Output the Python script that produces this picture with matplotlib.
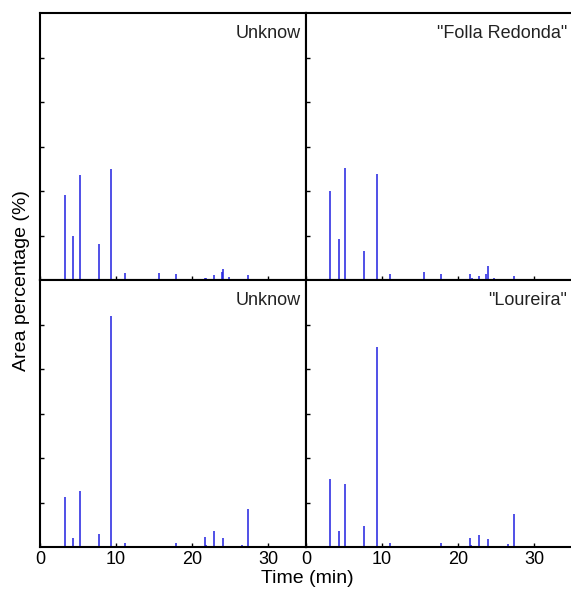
import numpy as np
import matplotlib
matplotlib.use("Agg")
import matplotlib.pyplot as plt

plt.rcParams['font.family'] = ['Liberation Sans', 'DejaVu Sans']

# retention times (min) and area percentage for each chromatogram
t_unk_top = [3.27, 4.36, 5.27, 7.76, 9.37, 11.2, 15.6, 17.9, 21.7, 21.9, 22.9, 23.9, 24.1, 24.8, 27.4]
a_unk_top = [1.9, 0.99, 2.35, 0.8, 2.5, 0.15, 0.16, 0.13, 0.05, 0.05, 0.11, 0.18, 0.24, 0.06, 0.11]

t_folla = [3.18, 4.31, 5.18, 7.67, 9.28, 11.1, 15.5, 17.8, 21.6, 21.8, 22.8, 23.7, 23.96, 24.7, 27.3]
a_folla = [1.99, 0.93, 2.52, 0.65, 2.39, 0.14, 0.17, 0.13, 0.14, 0.05, 0.09, 0.13, 0.32, 0.04, 0.1]

t_unk_bot = [3.27, 4.36, 5.27, 7.76, 9.37, 11.2, 15.6, 17.9, 21.7, 21.9, 22.9, 24.1, 26.6, 27.4]
a_unk_bot = [1.13, 0.2, 1.25, 0.3, 5.2, 0.09, 0.02, 0.08, 0.22, 0.05, 0.37, 0.2, 0.05, 0.86]

t_lour = [3.18, 4.31, 5.18, 7.67, 9.28, 11.1, 17.8, 21.6, 21.75, 22.8, 23.96, 26.5, 27.3]
a_lour = [1.52, 0.36, 1.41, 0.47, 4.5, 0.1, 0.1, 0.2, 0.05, 0.28, 0.19, 0.06, 0.74]

panels = [
    (t_unk_top, a_unk_top, 'Unknow'),
    (t_folla, a_folla, '"Folla Redonda"'),
    (t_unk_bot, a_unk_bot, 'Unknow'),
    (t_lour, a_lour, '"Loureira"'),
]

fig, axs = plt.subplots(2, 2, figsize=(5.71, 5.94), dpi=100)
fig.subplots_adjust(left=40/571, right=1.002, top=1-13/594, bottom=1-547/594,
                    wspace=0, hspace=0)

for i, (ax, (t, a, name)) in enumerate(zip(axs.flat, panels)):
    ax.vlines(t, 0, a, color='#2020e0', linewidth=1.1)
    ax.set_xlim(0, 35)
    ax.set_ylim(0, 6)
    ax.set_xticks([0, 10, 20, 30])
    ax.set_yticks([1, 2, 3, 4, 5])
    ax.tick_params(direction='in', length=3, width=1, labelsize=13, pad=3)
    ax.set_yticklabels([])
    if i < 2:
        ax.set_xticklabels([])
    for s in ax.spines.values():
        s.set_linewidth(1.5)
    ax.text(0.98, 0.955, name, transform=ax.transAxes, ha='right', va='top',
            fontsize=13, color='#222222')

fig.text(0.5375, 0.012, 'Time (min)', ha='center', va='bottom', fontsize=14)
fig.text(0.022, 0.528, 'Area percentage (%)', rotation=90, ha='left', va='center', fontsize=14)

fig.savefig('out.png', dpi=100)
